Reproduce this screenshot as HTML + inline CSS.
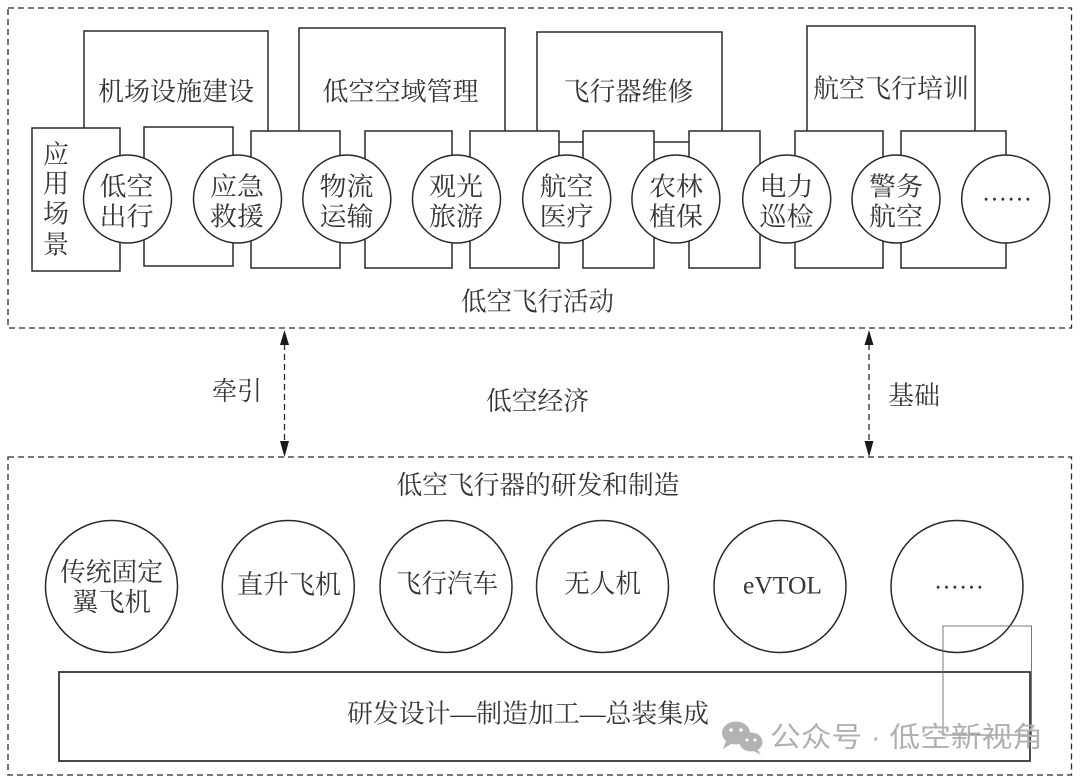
<!DOCTYPE html>
<html><head><meta charset="utf-8"><style>
html,body{margin:0;padding:0;background:#fff;}
svg{display:block;}
text{font-family:"Liberation Serif","Noto Serif CJK SC",serif;fill:#363636;}
</style></head><body>
<svg width="1080" height="781" viewBox="0 0 1080 781" xmlns="http://www.w3.org/2000/svg">
<g fill="none" stroke="#2a2a2a" stroke-width="1.3" stroke-dasharray="6,4">
<rect x="8" y="8" width="1063.5" height="320"/>
<rect x="8" y="457" width="1063.5" height="318"/>
<line x1="284.5" y1="344" x2="284.5" y2="442"/>
<line x1="869" y1="344" x2="869" y2="442"/>
</g>
<g fill="#1a1a1a" stroke="none">
<polygon points="284.5,330 280,345 289,345"/>
<polygon points="284.5,457 280,441 289,441"/>
<polygon points="869,330 864.5,345 873.5,345"/>
<polygon points="869,457 864.5,441 873.5,441"/>
</g>
<g fill="none" stroke="#2a2a2a" stroke-width="1.5">
<polyline points="84,128 84,31 268,31 268,131"/>
<polyline points="299,131 299,28 505,28 505,131"/>
<polyline points="537,131 537,32 722,32 722,131"/>
<polyline points="807,131 807,26 975,26 975,131"/>
<rect x="32" y="128" width="88" height="143" fill="#fff"/>
<rect x="144" y="127" width="89" height="139"/>
<rect x="251" y="131" width="89" height="137"/>
<rect x="365" y="131" width="87" height="137"/>
<rect x="470" y="131" width="89" height="137"/>
<rect x="583" y="131" width="71" height="137"/>
<rect x="689" y="131" width="71" height="137"/>
<rect x="795" y="131" width="88" height="137"/>
<rect x="901" y="131" width="105" height="137"/>
<line x1="559" y1="142" x2="583" y2="142"/>
<line x1="654" y1="142" x2="689" y2="142"/>
</g>
<g fill="#fff" stroke="#2a2a2a" stroke-width="1.5">
<circle cx="127.5" cy="199" r="44"/>
<circle cx="237.5" cy="199" r="44"/>
<circle cx="346.8" cy="199" r="44"/>
<circle cx="456.5" cy="199" r="44"/>
<circle cx="566.7" cy="199" r="44"/>
<circle cx="675.9" cy="199" r="44"/>
<circle cx="786.7" cy="199" r="44"/>
<circle cx="896" cy="199" r="44"/>
<circle cx="1005.7" cy="199" r="44"/>
<circle cx="111.5" cy="586.5" r="66"/>
<circle cx="288.3" cy="586.5" r="66"/>
<circle cx="446" cy="586.5" r="66"/>
<circle cx="602.5" cy="586.5" r="66"/>
<circle cx="780" cy="586.5" r="66"/>
<circle cx="957" cy="586.5" r="66"/>
</g>
<rect x="59" y="672" width="971" height="89" fill="none" stroke="#2a2a2a" stroke-width="1.7"/>
<g font-size="26" text-anchor="middle" dominant-baseline="central">
<text x="176" y="92" textLength="156" lengthAdjust="spacingAndGlyphs">机场设施建设</text>
<text x="400.5" y="92" textLength="156" lengthAdjust="spacingAndGlyphs">低空空域管理</text>
<text x="628.5" y="92" textLength="130" lengthAdjust="spacingAndGlyphs">飞行器维修</text>
<text x="891" y="89" textLength="156" lengthAdjust="spacingAndGlyphs">航空飞行培训</text>
<text x="56" y="155">应</text>
<text x="56" y="184">用</text>
<text x="56" y="214">场</text>
<text x="56" y="245">景</text>
<text x="126.5" y="187" textLength="54" lengthAdjust="spacingAndGlyphs">低空</text>
<text x="126.5" y="217" textLength="54" lengthAdjust="spacingAndGlyphs">出行</text>
<text x="237" y="187" textLength="54" lengthAdjust="spacingAndGlyphs">应急</text>
<text x="237" y="217" textLength="54" lengthAdjust="spacingAndGlyphs">救援</text>
<text x="346.5" y="187" textLength="54" lengthAdjust="spacingAndGlyphs">物流</text>
<text x="346.5" y="217" textLength="54" lengthAdjust="spacingAndGlyphs">运输</text>
<text x="456" y="187" textLength="54" lengthAdjust="spacingAndGlyphs">观光</text>
<text x="456" y="217" textLength="54" lengthAdjust="spacingAndGlyphs">旅游</text>
<text x="566.5" y="187" textLength="54" lengthAdjust="spacingAndGlyphs">航空</text>
<text x="566.5" y="217" textLength="54" lengthAdjust="spacingAndGlyphs">医疗</text>
<text x="676" y="187" textLength="54" lengthAdjust="spacingAndGlyphs">农林</text>
<text x="676" y="217" textLength="54" lengthAdjust="spacingAndGlyphs">植保</text>
<text x="786.5" y="187" textLength="54" lengthAdjust="spacingAndGlyphs">电力</text>
<text x="786.5" y="217" textLength="54" lengthAdjust="spacingAndGlyphs">巡检</text>
<text x="896" y="187" textLength="54" lengthAdjust="spacingAndGlyphs">警务</text>
<text x="896" y="217" textLength="54" lengthAdjust="spacingAndGlyphs">航空</text>
<text x="1007" y="192" textLength="50" lengthAdjust="spacingAndGlyphs">……</text>
<text x="537.5" y="302" textLength="153" lengthAdjust="spacingAndGlyphs">低空飞行活动</text>
<text x="237" y="391.5" textLength="50" lengthAdjust="spacingAndGlyphs">牵引</text>
<text x="537.5" y="401.5" textLength="103" lengthAdjust="spacingAndGlyphs">低空经济</text>
<text x="914" y="396" textLength="52" lengthAdjust="spacingAndGlyphs">基础</text>
<text x="538" y="485.5" textLength="283" lengthAdjust="spacingAndGlyphs">低空飞行器的研发和制造</text>
<text x="111.5" y="572.5" textLength="103" lengthAdjust="spacingAndGlyphs">传统固定</text>
<text x="111.5" y="602.5" textLength="79" lengthAdjust="spacingAndGlyphs">翼飞机</text>
<text x="289" y="585" textLength="104" lengthAdjust="spacingAndGlyphs">直升飞机</text>
<text x="447" y="584" textLength="102" lengthAdjust="spacingAndGlyphs">飞行汽车</text>
<text x="602.6" y="584" textLength="77" lengthAdjust="spacingAndGlyphs">无人机</text>
<text x="782.5" y="586" font-size="25" textLength="79" lengthAdjust="spacingAndGlyphs">eVTOL</text>
<text x="959" y="580" textLength="50" lengthAdjust="spacingAndGlyphs">……</text>
<text x="528" y="714" textLength="362" lengthAdjust="spacingAndGlyphs">研发设计—制造加工—总装集成</text>
</g>
<rect x="943" y="626" width="88.5" height="109" fill="none" stroke="#6a6a6a" stroke-width="0.9"/>
<g fill="#b3b3b3">
<ellipse cx="736" cy="733" rx="14" ry="11.5"/>
<polygon points="726,741 723,749 733,743"/>
<ellipse cx="751" cy="742" rx="11.5" ry="9.5"/>
<polygon points="757,749 761,755 752,750"/>
</g>
<g fill="#fff">
<circle cx="731" cy="730" r="1.8"/><circle cx="741" cy="730" r="1.8"/>
<circle cx="747" cy="740" r="1.5"/><circle cx="755" cy="740" r="1.5"/>
</g>
<text x="906.5" y="737" font-size="28" text-anchor="middle" dominant-baseline="central" style="font-family:'Liberation Sans','Noto Sans CJK SC',sans-serif;fill:#b0b0b0" textLength="273" lengthAdjust="spacingAndGlyphs">公众号 · 低空新视角</text>
</svg>
</body></html>
